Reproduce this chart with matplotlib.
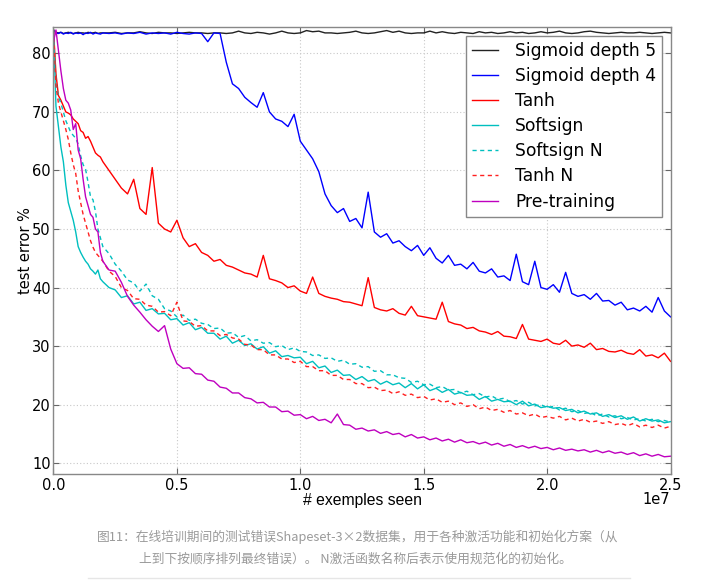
import matplotlib
matplotlib.use("Agg")
import matplotlib.pyplot as plt
from matplotlib.lines import Line2D
from matplotlib.ticker import FuncFormatter
import numpy as np

# sample positions (millions of examples seen)
x_millions = [0.0, 0.1, 0.2, 0.3, 0.4, 0.5, 0.6, 0.7, 0.8, 0.9, 1.0, 1.1, 1.2, 1.3, 1.4, 1.5, 1.6, 1.7, 1.8, 1.9, 2.0,
              2.25, 2.5, 2.75, 3.0, 3.25, 3.5, 3.75, 4.0, 4.25, 4.5, 4.75, 5.0, 5.25, 5.5, 5.75, 6.0,
              6.25, 6.5, 6.75, 7.0, 7.25, 7.5, 7.75, 8.0, 8.25, 8.5, 8.75, 9.0, 9.25, 9.5, 9.75, 10.0,
              10.25, 10.5, 10.75, 11.0, 11.25, 11.5, 11.75, 12.0, 12.25, 12.5, 12.75, 13.0, 13.25, 13.5, 13.75, 14.0,
              14.25, 14.5, 14.75, 15.0, 15.25, 15.5, 15.75, 16.0, 16.25, 16.5, 16.75, 17.0, 17.25, 17.5, 17.75, 18.0,
              18.25, 18.5, 18.75, 19.0, 19.25, 19.5, 19.75, 20.0, 20.25, 20.5, 20.75, 21.0, 21.25, 21.5, 21.75, 22.0,
              22.25, 22.5, 22.75, 23.0, 23.25, 23.5, 23.75, 24.0, 24.25, 24.5, 24.75, 25.0]

sigmoid_depth5 = [84.0, 83.6, 83.5, 83.6, 83.4, 83.5, 83.6, 83.5, 83.4, 83.5, 83.6, 83.5, 83.5, 83.4, 83.6, 83.5, 83.5, 83.6, 83.4, 83.5, 83.5,
                  83.5, 83.6, 83.4, 83.5, 83.5, 83.7, 83.5, 83.4, 83.6, 83.5, 83.5, 83.4, 83.5, 83.6, 83.5, 83.5,
                  83.4, 83.5, 83.5, 83.4, 83.5, 83.8, 83.5, 83.4, 83.6, 83.5, 83.3, 83.5, 83.8, 83.5, 83.4, 83.5,
                  83.9, 83.7, 83.8, 83.5, 83.5, 83.4, 83.5, 83.6, 83.8, 83.5, 83.4, 83.5, 83.7, 83.9, 83.6, 83.8,
                  83.5, 83.4, 83.5, 83.5, 83.8, 83.5, 83.7, 83.5, 83.4, 83.6, 83.5, 83.4, 83.7, 83.5, 83.6, 83.4,
                  83.5, 83.7, 83.5, 83.6, 83.4, 83.5, 83.7, 83.5, 83.6, 83.8, 83.5, 83.4, 83.5, 83.7, 83.8, 83.6,
                  83.5, 83.4, 83.5, 83.6, 83.5, 83.5, 83.6, 83.5, 83.4, 83.5, 83.6, 83.5]

sigmoid_depth4 = [84.0, 83.5, 83.4, 83.6, 83.3, 83.5, 83.4, 83.6, 83.3, 83.5, 83.4, 83.5, 83.2, 83.5, 83.4, 83.6, 83.3, 83.5, 83.4, 83.3, 83.5,
                  83.4, 83.5, 83.3, 83.5, 83.4, 83.6, 83.3, 83.5, 83.4, 83.5, 83.3, 83.6, 83.4, 83.3, 83.5, 83.4,
                  82.0, 83.5, 83.4, 78.5, 74.8, 74.0, 72.5, 71.6, 70.8, 73.3, 70.0, 68.8, 68.4, 67.5, 69.6, 65.0,
                  63.5, 62.0, 59.8, 56.0, 54.0, 52.8, 53.5, 51.3, 51.8, 50.2, 56.3, 49.5, 48.6, 49.2, 47.6, 48.0,
                  47.0, 46.3, 47.2, 45.5, 46.8, 45.0, 44.2, 45.5, 43.8, 44.0, 43.2, 44.3, 42.8, 42.5, 43.2, 41.8,
                  42.0, 41.2, 45.7, 41.0, 40.5, 44.5, 40.0, 39.7, 40.5, 39.2, 42.6, 39.0, 38.5, 38.8, 38.0, 39.0,
                  37.7, 37.8, 37.0, 37.5, 36.2, 36.5, 36.0, 36.8, 35.8, 38.3, 36.0, 35.0]

tanh = [84.0, 76.5, 72.8, 72.0, 71.0, 70.0, 69.8, 69.5, 68.8, 68.4, 68.0, 66.8, 66.5, 65.5, 65.8, 65.0, 64.0, 63.0, 62.6, 62.3, 61.5,
        60.0, 58.5, 57.0, 56.0, 58.5, 53.5, 52.5, 60.5, 51.0, 50.0, 49.5, 51.5, 48.5, 47.0, 47.5, 46.0,
        45.5, 44.5, 44.8, 43.8, 43.5, 43.0, 42.5, 42.3, 41.8, 45.5, 41.5, 41.2, 40.8, 40.0, 40.3, 39.4,
        39.0, 41.8, 39.0, 38.5, 38.2, 38.0, 37.6, 37.5, 37.2, 36.9, 41.7, 36.6, 36.2, 36.0, 36.4, 35.6,
        35.3, 36.8, 35.2, 35.0, 34.8, 34.6, 37.5, 34.2, 33.8, 33.6, 33.0, 33.2, 32.6, 32.4, 32.0, 32.5,
        31.7, 31.6, 31.3, 33.7, 31.2, 31.0, 30.8, 31.2, 30.5, 30.3, 31.0, 30.0, 30.2, 29.8, 30.5, 29.4,
        29.6, 29.1, 29.0, 29.3, 28.8, 28.6, 29.4, 28.3, 28.5, 28.0, 28.8, 27.4]

softsign = [84.0, 71.0, 67.5, 64.0, 61.5, 57.5, 54.5, 53.0, 51.5, 49.5, 47.0, 46.0, 45.2, 44.5, 44.0, 43.2, 42.8, 42.3, 43.0, 41.5, 41.0,
            40.0, 39.6, 38.3, 38.6, 37.2, 37.5, 36.1, 36.4, 35.5, 35.6, 34.5, 34.7, 33.6, 34.0, 32.8, 33.2,
            32.2, 32.2, 31.2, 31.7, 30.5, 31.0, 30.1, 30.4, 29.5, 29.9, 28.8, 29.2, 28.2, 28.4, 28.0, 28.1,
            27.0, 27.4, 26.3, 26.6, 25.5, 25.9, 25.0, 25.1, 24.3, 24.8, 24.0, 24.3, 23.5, 24.0, 23.4, 23.7,
            22.9, 23.6, 22.7, 23.4, 22.4, 22.8, 22.1, 22.6, 21.8, 22.1, 21.6, 21.7, 20.9, 21.4, 20.6, 20.9,
            20.5, 20.6, 20.0, 20.6, 19.8, 20.1, 19.5, 19.7, 19.4, 19.5, 19.0, 19.2, 18.6, 18.9, 18.4, 18.6,
            18.0, 18.3, 17.8, 18.1, 17.5, 17.9, 17.2, 17.6, 17.2, 17.4, 16.9, 17.1]

softsign_n = [84.0, 75.0, 72.5, 71.5, 70.0, 68.5, 67.5, 66.5, 66.0, 65.5, 64.5, 62.5, 61.0, 60.2, 58.0, 55.5, 55.0, 53.0, 50.0, 48.5, 47.0,
              45.8, 44.0, 42.8, 41.3, 40.8, 39.4, 40.6, 38.6, 38.0, 36.4, 36.0, 35.0, 35.3, 34.4, 34.6, 33.9,
              33.7, 33.0, 33.1, 32.2, 32.3, 31.5, 31.8, 30.9, 31.1, 30.5, 30.6, 29.9, 30.1, 29.4, 29.7, 29.1,
              29.0, 28.4, 28.5, 27.9, 28.0, 27.4, 27.6, 26.9, 27.0, 26.4, 26.5, 25.7, 25.8, 25.1, 25.1, 24.6,
              24.5, 23.8, 24.0, 23.4, 23.5, 22.9, 23.1, 22.5, 22.6, 22.0, 22.3, 21.7, 21.9, 21.3, 21.5, 20.9,
              21.1, 20.5, 20.7, 20.1, 20.4, 19.8, 20.0, 19.5, 19.7, 19.1, 19.4, 18.8, 19.0, 18.5, 18.7, 18.1,
              18.4, 17.9, 18.1, 17.6, 17.8, 17.4, 17.6, 17.2, 17.5, 17.1, 17.3, 17.0]

tanh_n = [84.0, 74.5, 71.5, 70.0, 68.5, 67.0, 65.3, 63.0, 61.0, 59.5, 56.5, 54.5, 52.5, 51.0, 49.5, 48.0, 46.9, 46.0, 45.5, 45.0, 44.5,
          42.8, 41.9, 40.0, 39.5, 38.1, 38.0, 37.0, 36.8, 35.8, 35.9, 35.2, 37.5, 34.3, 34.2, 33.4, 33.5,
          32.6, 32.6, 31.8, 32.0, 31.4, 31.2, 30.3, 30.2, 29.4, 29.4, 28.5, 28.5, 27.8, 27.8, 27.2, 27.4,
          26.5, 26.5, 25.8, 25.8, 25.0, 25.0, 24.3, 24.3, 23.6, 23.6, 22.9, 23.0, 22.4, 22.5, 21.9, 22.2,
          21.6, 21.8, 21.2, 21.4, 20.8, 21.0, 20.4, 20.6, 20.0, 20.3, 19.7, 20.0, 19.3, 19.6, 19.0, 19.2,
          18.7, 19.0, 18.4, 18.6, 18.1, 18.4, 17.8, 18.0, 17.7, 18.0, 17.4, 17.7, 17.2, 17.5, 17.0, 17.2,
          16.8, 17.1, 16.6, 16.8, 16.4, 16.8, 16.2, 16.5, 16.1, 16.5, 16.0, 16.3]

pre_training = [82.0, 84.0, 80.5, 77.0, 74.0, 72.0, 71.5, 70.3, 67.0, 68.0, 63.5, 62.0, 58.5, 55.5, 54.0, 52.5, 52.0, 50.0, 49.5, 46.0, 44.5,
                43.0, 42.8, 40.9, 38.5, 37.0, 35.8, 34.5, 33.4, 32.5, 33.5, 29.5, 27.0, 26.2, 26.3, 25.3, 25.2,
                24.2, 24.0, 23.0, 22.8, 22.0, 22.0, 21.2, 21.0, 20.3, 20.4, 19.6, 19.6, 18.8, 18.9, 18.2, 18.3,
                17.6, 18.0, 17.3, 17.5, 16.9, 18.4, 16.6, 16.5, 15.8, 16.0, 15.5, 15.7, 15.1, 15.4, 14.9, 15.1,
                14.5, 14.9, 14.3, 14.5, 14.0, 14.3, 13.8, 14.1, 13.6, 14.0, 13.5, 13.7, 13.3, 13.6, 13.1, 13.4,
                12.9, 13.2, 12.7, 13.0, 12.6, 12.9, 12.5, 12.7, 12.3, 12.6, 12.2, 12.4, 12.1, 12.3, 11.9, 12.2,
                11.8, 12.1, 11.7, 11.9, 11.5, 11.8, 11.3, 11.6, 11.2, 11.5, 11.1, 11.2]

labels = ["Sigmoid depth 5", "Sigmoid depth 4", "Tanh", "Softsign", "Softsign N", "Tanh N", "Pre-training"]
y_ticks = [10, 20, 30, 40, 50, 60, 70, 80]
x_ticks = [0.0, 0.5e7, 1.0e7, 1.5e7, 2.0e7, 2.5e7]

caption_line1 = "图11：在线培训期间的测试错误Shapeset-3×2数据集，用于各种激活功能和初始化方案（从"
caption_line2 = "上到下按顺序排列最终错误）。 N激活函数名称后表示使用规范化的初始化。"

x = np.array(x_millions) * 1e6

fig = plt.figure(figsize=(7.19, 5.88), dpi=100)
ax = fig.add_axes([0.0744, 0.194, 0.8582, 0.760])

series = [
    (sigmoid_depth5, dict(color="#222222", lw=1.0, ls="-")),
    (sigmoid_depth4, dict(color="#0000ff", lw=1.0, ls="-")),
    (tanh, dict(color="#ff0000", lw=1.0, ls="-")),
    (softsign, dict(color="#00bfbf", lw=1.0, ls="-")),
    (softsign_n, dict(color="#00bfbf", lw=1.0, ls=(0, (3, 2.5)))),
    (tanh_n, dict(color="#ff2020", lw=1.0, ls=(0, (3, 2.5)))),
    (pre_training, dict(color="#bf00bf", lw=1.0, ls="-")),
]
for (vals, st), lab in zip(series, labels):
    ax.plot(x, vals, label=lab, **st)

ax.set_xlim(0, 2.5e7)
ax.set_ylim(8.17, 84.5)
ax.set_xticks(x_ticks)
ax.set_yticks(y_ticks)
ax.xaxis.set_major_formatter(FuncFormatter(lambda v, p: f"{v / 1e7:.1f}"))
ax.grid(True, linestyle=(0, (1, 2)), color="#c8c8c8", lw=0.8)
ax.tick_params(direction="in", length=4, width=0.8, color="#666666", labelsize=10.5,
               top=True, right=True, pad=3)
ax.tick_params(axis="y", pad=2)
for sp in ax.spines.values():
    sp.set_color("#888888")
    sp.set_linewidth(1.0)

ax.text(1.0, -0.058, "1e7", transform=ax.transAxes, ha="right", va="center",
        fontsize=10.5)
ax.set_ylabel("test error %", fontsize=10.5, labelpad=-1)
ax.set_xlabel("# exemples seen", fontsize=11.3, labelpad=0, family="Liberation Sans")

leg = ax.legend(loc="upper right", fontsize=12.3, labelspacing=0.42, handlelength=1.5,
                handletextpad=1.0, borderpad=0.35, fancybox=False, framealpha=1.0,
                edgecolor="#888888")
leg.get_frame().set_linewidth(1.0)

cap_fam = ["Noto Sans CJK SC", "DejaVu Sans"]
fig.text(0.497, 1 - 537 / 588, caption_line1, ha="center", va="center", fontsize=9.2,
         color="#9a9a9a", family=cap_fam)
fig.text(0.494, 1 - 559 / 588, caption_line2, ha="center", va="center", fontsize=9.2,
         color="#9a9a9a", family=cap_fam)
fig.add_artist(Line2D([88 / 719, 630 / 719], [1 - 578 / 588] * 2, color="#e6e6e6", lw=1.0))

fig.savefig("out.png", dpi=100, facecolor="white")
